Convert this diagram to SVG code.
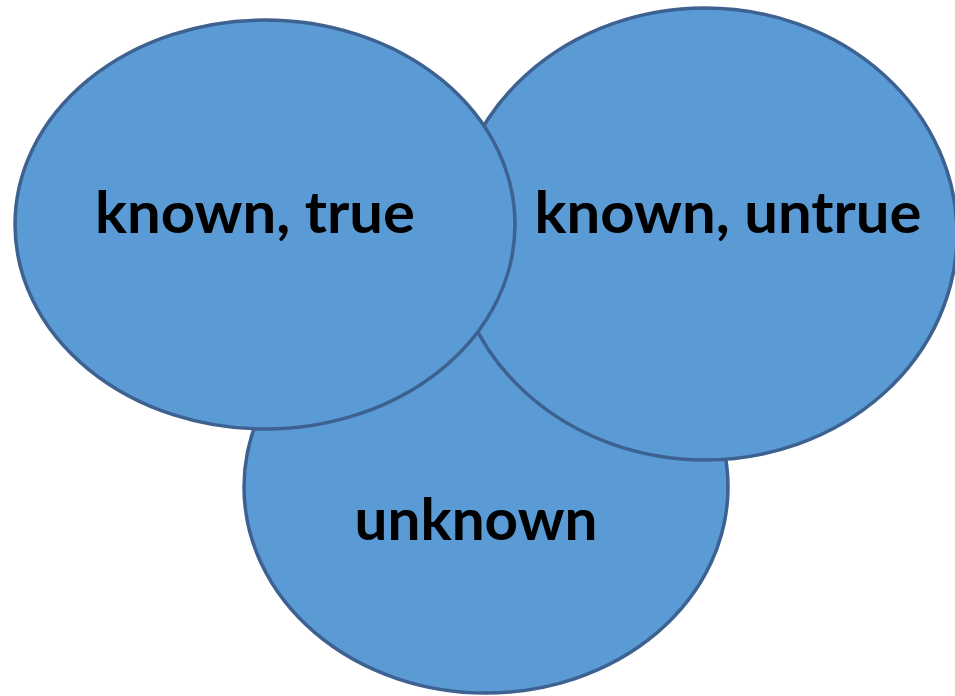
<svg xmlns="http://www.w3.org/2000/svg" width="955" height="696" viewBox="0 0 955 696">
<style>
.c{fill:#5B9BD5;stroke:#3D6190;stroke-width:3.5}
.t{font-family:Lato,"Open Sans","Liberation Sans",sans-serif;font-weight:bold;font-size:58px;fill:#000;text-anchor:middle}
</style>
<rect width="955" height="696" fill="#fff"/>
<g id="unknown">
<ellipse class="c" cx="486" cy="487" rx="242" ry="206"/>
<text class="t" x="476" y="540" textLength="243" lengthAdjust="spacingAndGlyphs">unknown</text>
</g>
<g id="known-untrue">
<ellipse class="c" cx="705" cy="234" rx="252" ry="226"/>
<text class="t" x="728" y="233" textLength="387" lengthAdjust="spacingAndGlyphs">known, untrue</text>
</g>
<g id="known-true">
<ellipse class="c" cx="265" cy="224.5" rx="250" ry="204.5"/>
<text class="t" x="255" y="233" textLength="320" lengthAdjust="spacingAndGlyphs">known, true</text>
</g>
<g id="connectors"/>
</svg>
